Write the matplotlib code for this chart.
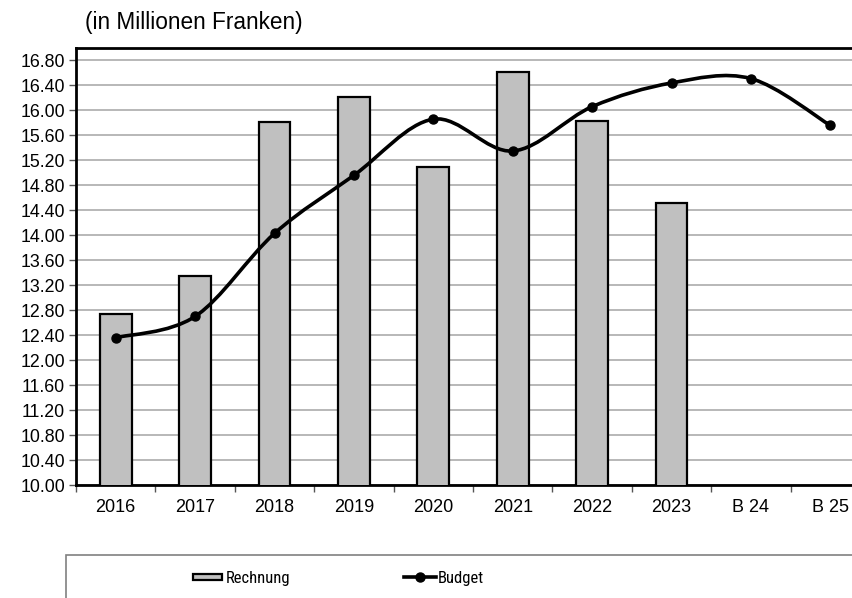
import matplotlib
matplotlib.use("Agg")
import matplotlib.pyplot as plt
import numpy as np
from matplotlib.path import Path
from matplotlib.patches import PathPatch, Rectangle
from matplotlib.lines import Line2D

plt.rcParams['font.family'] = ['Liberation Sans', 'DejaVu Sans']
narrow = ['Roboto Condensed', 'Liberation Sans']

categories = ["2016", "2017", "2018", "2019", "2020", "2021", "2022", "2023", "B 24", "B 25"]
rechnung = [12.74, 13.34, 15.82, 16.22, 15.09, 16.61, 15.83, 14.51, None, None]
budget = [12.36, 12.70, 14.03, 14.96, 15.86, 15.35, 16.06, 16.44, 16.51, 15.76]
yticks = [10.0 + 0.4 * i for i in range(18)]

fig = plt.figure(figsize=(8.52, 5.98), dpi=100)
ax = fig.add_axes([76 / 852, 113 / 598, 794 / 852, 437 / 598])

x = np.arange(len(categories))
bx = [i for i, v in enumerate(rechnung) if v is not None]
bv = [v for v in rechnung if v is not None]
ax.bar(bx, bv, width=0.4, bottom=0, color='#C0C0C0', edgecolor='black', linewidth=1.6, zorder=3)

# smoothed line (Catmull-Rom style bezier)
pts = np.column_stack([x, budget]).astype(float)
verts = [tuple(pts[0])]
codes = [Path.MOVETO]
n = len(pts)
for i in range(n - 1):
    p0 = pts[max(i - 1, 0)]
    p1 = pts[i]
    p2 = pts[i + 1]
    p3 = pts[min(i + 2, n - 1)]
    c1 = p1 + (p2 - p0) / 6.0
    c2 = p2 - (p3 - p1) / 6.0
    verts += [tuple(c1), tuple(c2), tuple(p2)]
    codes += [Path.CURVE4] * 3
ax.add_patch(PathPatch(Path(verts, codes), facecolor='none', edgecolor='black', linewidth=2.6, zorder=4))
ax.plot(x, budget, linestyle='none', marker='o', markersize=6.5, color='black', zorder=5)

ax.set_xlim(-0.5, len(categories) - 0.5)
ax.set_ylim(10.0, 17.0)
ax.set_yticks(yticks)
ax.set_yticklabels([f"{v:.2f}" for v in yticks], fontsize=12.8)
ax.yaxis.grid(True, color='#B8B8B8', linewidth=1.4, zorder=0)
ax.set_axisbelow(True)
ax.set_xticks(x)
ax.set_xticklabels(categories, fontsize=13)
ax.set_xticks(np.arange(-0.5, len(categories)), minor=True)
ax.tick_params(axis='x', which='major', length=0, pad=10)
ax.tick_params(axis='x', which='minor', length=5, width=1, direction='out', color='#555555')
ax.tick_params(axis='y', length=5, width=1, direction='out', color='#555555', pad=3)
for s in ax.spines.values():
    s.set_linewidth(2)
    s.set_color('black')

fig.text(85 / 852, 1 - 23 / 598, "(in Millionen Franken)", fontsize=16.3, va='center', ha='left')

# legend box
fig.patches.append(Rectangle((66 / 852, -0.1), 1.0, (598 - 555) / 598 + 0.1, transform=fig.transFigure,
                             facecolor='white', edgecolor='#808080', linewidth=1.2))
fig.patches.append(Rectangle((193 / 852, 1 - 580 / 598), 29 / 852, 6 / 598, transform=fig.transFigure,
                             facecolor='#C0C0C0', edgecolor='black', linewidth=1.6))
fig.text(226 / 852, 1 - 578 / 598, "Rechnung", fontsize=12, va='center', ha='left', family=narrow)
fig.lines.append(Line2D([404 / 852, 436 / 852], [1 - 577 / 598] * 2, transform=fig.transFigure,
                        color='black', linewidth=2.6, marker=None))
fig.lines.append(Line2D([420 / 852], [1 - 577 / 598], transform=fig.transFigure,
                        color='black', marker='o', markersize=6.5, linestyle='none'))
fig.text(438 / 852, 1 - 578 / 598, "Budget", fontsize=12, va='center', ha='left', family=narrow)

fig.savefig("out.png", dpi=100)
